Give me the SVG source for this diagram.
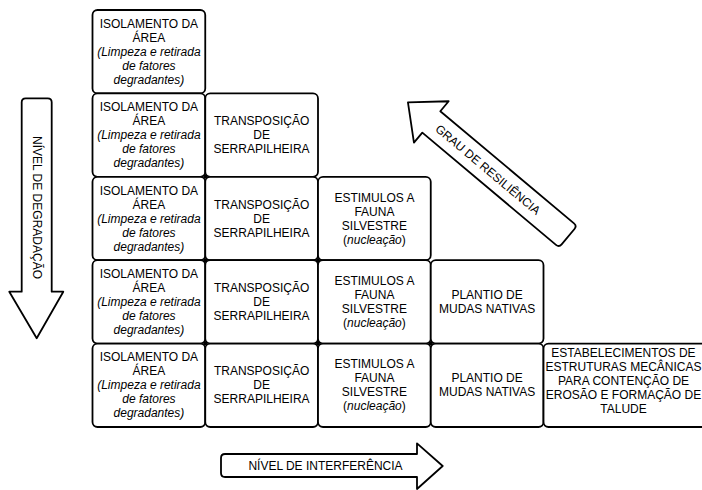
<svg xmlns="http://www.w3.org/2000/svg" width="702" height="490" viewBox="0 0 702 490">
<style>
.box{fill:#fff;stroke:#000;stroke-width:1.8}
.arr{fill:#fff;stroke:#000;stroke-width:1.8;stroke-linejoin:round}
text{font-family:"Liberation Sans",Arial,sans-serif;font-size:12px;fill:#000;text-anchor:middle}
.i{font-style:italic}
.dot{fill:#000}
</style>
<rect width="702" height="490" fill="#fff"/>
<g id="row1">
<g id="r1c1"><rect class="box" x="92.5" y="10" width="112.75" height="83.4" rx="5"/>
<text x="148.9" y="27.7">ISOLAMENTO DA</text><text x="148.9" y="41.7">ÁREA</text><text class="i" x="148.9" y="55.7">(Limpeza e retirada</text><text class="i" x="148.9" y="69.7">de fatores</text><text class="i" x="148.9" y="83.7">degradantes)</text></g>
</g>
<g id="row2">
<g id="r2c1"><rect class="box" x="92.5" y="93.4" width="112.75" height="83.4" rx="5"/>
<text x="148.9" y="111.1">ISOLAMENTO DA</text><text x="148.9" y="125.1">ÁREA</text><text class="i" x="148.9" y="139.1">(Limpeza e retirada</text><text class="i" x="148.9" y="153.1">de fatores</text><text class="i" x="148.9" y="167.1">degradantes)</text></g>
<g id="r2c2"><rect class="box" x="205.25" y="93.4" width="112.75" height="83.4" rx="5"/>
<text x="261.6" y="125.1">TRANSPOSIÇÃO</text><text x="261.6" y="139.1">DE</text><text x="261.6" y="153.1">SERRAPILHEIRA</text></g>
</g>
<g id="row3">
<g id="r3c1"><rect class="box" x="92.5" y="176.8" width="112.75" height="83.4" rx="5"/>
<text x="148.9" y="194.5">ISOLAMENTO DA</text><text x="148.9" y="208.5">ÁREA</text><text class="i" x="148.9" y="222.5">(Limpeza e retirada</text><text class="i" x="148.9" y="236.5">de fatores</text><text class="i" x="148.9" y="250.5">degradantes)</text></g>
<g id="r3c2"><rect class="box" x="205.25" y="176.8" width="112.75" height="83.4" rx="5"/>
<text x="261.6" y="208.5">TRANSPOSIÇÃO</text><text x="261.6" y="222.5">DE</text><text x="261.6" y="236.5">SERRAPILHEIRA</text></g>
<g id="r3c3"><rect class="box" x="318" y="176.8" width="112.75" height="83.4" rx="5"/>
<text x="374.4" y="201.5">ESTIMULOS A</text><text x="374.4" y="215.5">FAUNA</text><text x="374.4" y="229.5">SILVESTRE</text><text x="374.4" y="243.5">(<tspan class="i">nucleação</tspan>)</text></g>
</g>
<g id="row4">
<g id="r4c1"><rect class="box" x="92.5" y="260.2" width="112.75" height="83.4" rx="5"/>
<text x="148.9" y="277.9">ISOLAMENTO DA</text><text x="148.9" y="291.9">ÁREA</text><text class="i" x="148.9" y="305.9">(Limpeza e retirada</text><text class="i" x="148.9" y="319.9">de fatores</text><text class="i" x="148.9" y="333.9">degradantes)</text></g>
<g id="r4c2"><rect class="box" x="205.25" y="260.2" width="112.75" height="83.4" rx="5"/>
<text x="261.6" y="291.9">TRANSPOSIÇÃO</text><text x="261.6" y="305.9">DE</text><text x="261.6" y="319.9">SERRAPILHEIRA</text></g>
<g id="r4c3"><rect class="box" x="318" y="260.2" width="112.75" height="83.4" rx="5"/>
<text x="374.4" y="284.9">ESTIMULOS A</text><text x="374.4" y="298.9">FAUNA</text><text x="374.4" y="312.9">SILVESTRE</text><text x="374.4" y="326.9">(<tspan class="i">nucleação</tspan>)</text></g>
<g id="r4c4"><rect class="box" x="430.75" y="260.2" width="112.75" height="83.4" rx="5"/>
<text x="487.1" y="298.9">PLANTIO DE</text><text x="487.1" y="312.9">MUDAS NATIVAS</text></g>
</g>
<g id="row5">
<g id="r5c1"><rect class="box" x="92.5" y="343.6" width="112.75" height="83.4" rx="5"/>
<text x="148.9" y="361.3">ISOLAMENTO DA</text><text x="148.9" y="375.3">ÁREA</text><text class="i" x="148.9" y="389.3">(Limpeza e retirada</text><text class="i" x="148.9" y="403.3">de fatores</text><text class="i" x="148.9" y="417.3">degradantes)</text></g>
<g id="r5c2"><rect class="box" x="205.25" y="343.6" width="112.75" height="83.4" rx="5"/>
<text x="261.6" y="375.3">TRANSPOSIÇÃO</text><text x="261.6" y="389.3">DE</text><text x="261.6" y="403.3">SERRAPILHEIRA</text></g>
<g id="r5c3"><rect class="box" x="318" y="343.6" width="112.75" height="83.4" rx="5"/>
<text x="374.4" y="368.3">ESTIMULOS A</text><text x="374.4" y="382.3">FAUNA</text><text x="374.4" y="396.3">SILVESTRE</text><text x="374.4" y="410.3">(<tspan class="i">nucleação</tspan>)</text></g>
<g id="r5c4"><rect class="box" x="430.75" y="343.6" width="112.75" height="83.4" rx="5"/>
<text x="487.1" y="382.3">PLANTIO DE</text><text x="487.1" y="396.3">MUDAS NATIVAS</text></g>
<g id="r5c5"><rect class="box" x="543.5" y="343.6" width="166" height="83.4" rx="5"/>
<text x="623.5" y="357.3">ESTABELECIMENTOS DE</text><text x="623.5" y="371.3">ESTRUTURAS MECÂNICAS</text><text x="623.5" y="385.3">PARA CONTENÇÃO DE</text><text x="623.5" y="399.3">EROSÃO E FORMAÇÃO DE</text><text x="623.5" y="413.3">TALUDE</text></g>
</g>
<g id="junctions">
<circle class="dot" cx="205.25" cy="176.8" r="2"/>
<circle class="dot" cx="205.25" cy="260.2" r="2"/>
<circle class="dot" cx="318" cy="260.2" r="2"/>
<circle class="dot" cx="205.25" cy="343.6" r="2"/>
<circle class="dot" cx="318" cy="343.6" r="2"/>
<circle class="dot" cx="430.75" cy="343.6" r="2"/>
</g>
<g id="arrow-degradacao">
<path class="arr" d="M25.7,98.3 H47.7 Q51.7,98.3 51.7,102.3 V291.7 H63.3 L36.7,338.3 L9.3,291.7 H21.7 V102.3 Q21.7,98.3 25.7,98.3 Z"/>
<text transform="translate(37,207.5) rotate(90)" x="0" y="4.3">NÍVEL DE DEGRADAÇÃO</text>
</g>
<g id="arrow-interferencia">
<path class="arr" d="M221,458 Q221,454 225,454 H417 V443.3 L442.7,466 L417,489 V477 H225 Q221,477 221,473 Z"/>
<text x="325.5" y="470">NÍVEL DE INTERFERÊNCIA</text>
</g>
<g id="arrow-resiliencia" transform="translate(488,169.5) rotate(40)">
<path class="arr" d="M-104.5,0 L-74,-27 V-14 H100.5 Q104.5,-14 104.5,-10 V10 Q104.5,14 100.5,14 H-74 V27 Z"/>
<text x="0" y="4.3">GRAU DE RESILIÊNCIA</text>
</g>
</svg>
